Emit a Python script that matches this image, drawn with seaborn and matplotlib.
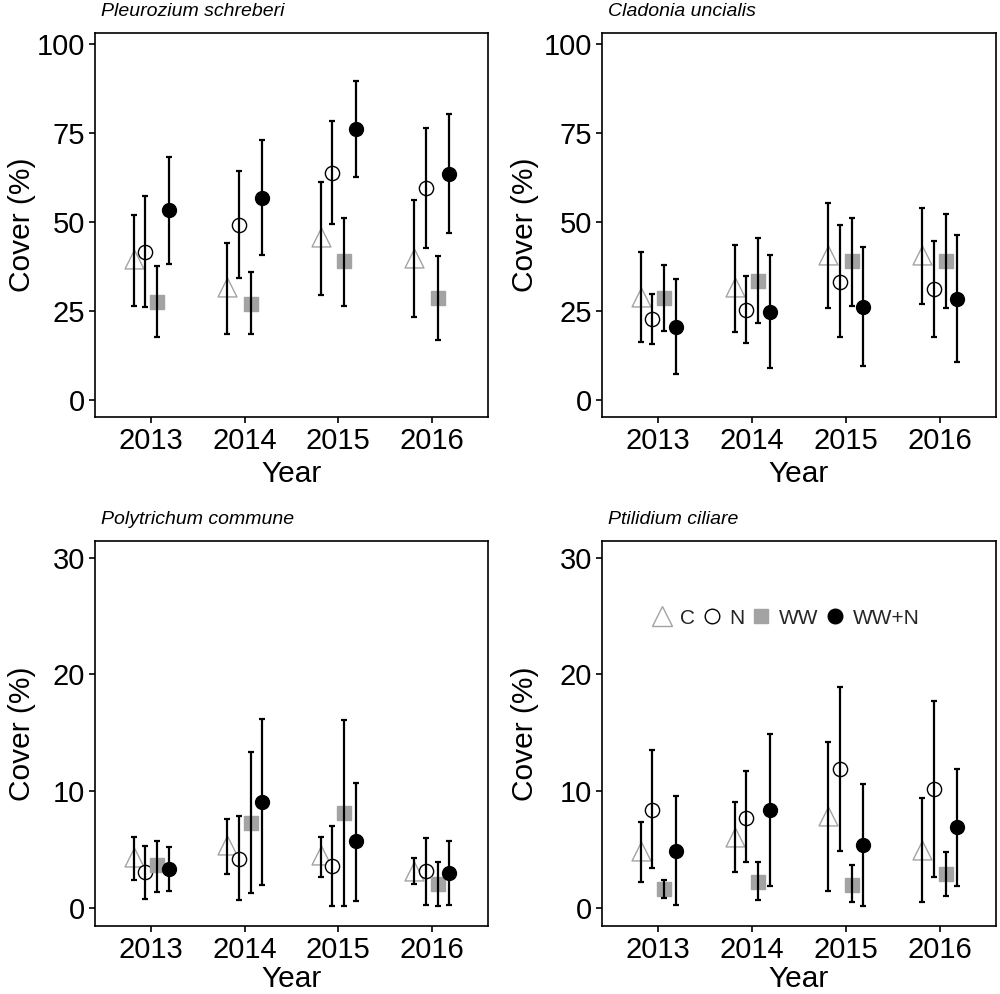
import numpy as np
import pandas as pd
import seaborn as sns
import matplotlib.pyplot as plt
from matplotlib.lines import Line2D

# 数据：每个物种 4 个处理 x 4 年 (均值, 下限, 上限)
years = ['2013', '2014', '2015', '2016']
treatments = ['C', 'N', 'WW', 'WW+N']

pleuro_mean = [[39.5, 31.7, 45.7, 39.9], [41.7, 49.2, 63.9, 59.5], [27.6, 27.0, 38.9, 28.6], [53.3, 56.8, 76.1, 63.6]]
pleuro_lo = [[26.4, 18.6, 29.4, 23.2], [26.0, 34.2, 49.5, 42.6], [17.8, 18.4, 26.4, 16.9], [38.1, 40.7, 62.6, 47.0]]
pleuro_hi = [[52.0, 44.2, 61.3, 56.2], [57.4, 64.2, 78.3, 76.3], [37.5, 35.9, 51.1, 40.3], [68.3, 72.9, 89.7, 80.3]]

clad_mean = [[29.0, 31.6, 40.7, 40.7], [22.7, 25.3, 33.2, 31.2], [28.6, 33.4, 38.9, 38.9], [20.6, 24.8, 26.2, 28.4]]
clad_lo = [[16.2, 19.0, 25.9, 26.9], [15.7, 15.9, 17.6, 17.6], [19.5, 21.5, 26.4, 25.9], [7.3, 9.1, 9.4, 10.6]]
clad_hi = [[41.7, 43.4, 55.2, 53.8], [29.8, 34.9, 49.2, 44.7], [37.9, 45.4, 51.2, 52.2], [34.0, 40.7, 43.0, 46.2]]

poly_mean = [[4.4, 5.4, 4.5, 3.2], [3.1, 4.2, 3.6, 3.2], [3.7, 7.3, 8.1, 2.1], [3.3, 9.1, 5.7, 3.0]]
poly_lo = [[2.4, 2.9, 2.7, 2.1], [0.8, 0.7, 0.2, 0.3], [1.4, 1.3, 0.2, 0.2], [1.5, 2.0, 0.6, 0.3]]
poly_hi = [[6.1, 7.6, 6.1, 4.3], [5.3, 7.9, 7.0, 6.0], [5.7, 13.4, 16.1, 3.9], [5.2, 16.2, 10.7, 5.7]]

ptil_mean = [[4.9, 6.1, 7.9, 5.0], [8.4, 7.7, 11.9, 10.2], [1.6, 2.2, 2.0, 2.9], [4.9, 8.4, 5.4, 6.9]]
ptil_lo = [[2.2, 3.1, 1.5, 0.5], [3.4, 3.9, 4.9, 2.7], [0.9, 0.7, 0.5, 1.0], [0.3, 1.9, 0.2, 1.9]]
ptil_hi = [[7.4, 9.1, 14.2, 9.4], [13.5, 11.7, 18.9, 17.7], [2.4, 3.9, 3.7, 4.8], [9.6, 14.9, 10.6, 11.9]]

panels = [
    ('Pleurozium schreberi', pleuro_mean, pleuro_lo, pleuro_hi, (-4.8, 103.1), [0, 25, 50, 75, 100]),
    ('Cladonia uncialis', clad_mean, clad_lo, clad_hi, (-4.8, 103.1), [0, 25, 50, 75, 100]),
    ('Polytrichum commune', poly_mean, poly_lo, poly_hi, (-1.54, 31.43), [0, 10, 20, 30]),
    ('Ptilidium ciliare', ptil_mean, ptil_lo, ptil_hi, (-1.54, 31.43), [0, 10, 20, 30]),
]

# 样式
offsets = [-0.1875, -0.0625, 0.0625, 0.1875]
markers = ['^', 'o', 's', 'o']
sizes = [185, 105, 100, 100]
faces = ['white', 'white', '#a3a3a3', 'black']
edges = ['#a3a3a3', 'black', '#a3a3a3', 'black']

sns.set_theme(style='white')
plt.rcParams['font.family'] = ['Liberation Sans', 'DejaVu Sans']

fig = plt.figure(figsize=(10, 9.94), dpi=100)
rects = [
    [0.095, 0.5805, 0.393, 0.3863],
    [0.602, 0.5805, 0.394, 0.3863],
    [0.095, 0.0684, 0.393, 0.3873],
    [0.602, 0.0684, 0.394, 0.3873],
]
ylab_x = [-0.15, -0.16, -0.15, -0.16]
xlab_y = [-0.113, -0.113, -0.1, -0.1]

for k, (name, mean, lo, hi, ylim, yt) in enumerate(panels):
    ax = fig.add_axes(rects[k])
    rows = []
    for t in range(4):
        for i in range(4):
            rows.append({'treat': treatments[t], 'x': i + offsets[t],
                         'mean': mean[t][i], 'lo': lo[t][i], 'hi': hi[t][i]})
    df = pd.DataFrame(rows)

    for t, tr in enumerate(treatments):
        sub = df[df['treat'] == tr]
        sns.scatterplot(data=sub, x='x', y='mean', marker=markers[t], s=sizes[t],
                        color=faces[t], edgecolor=edges[t], linewidth=1.0,
                        ax=ax, zorder=2, legend=False)
        ax.errorbar(sub['x'], sub['mean'],
                    yerr=[sub['mean'] - sub['lo'], sub['hi'] - sub['mean']],
                    fmt='none', ecolor='black', elinewidth=1.6, capsize=2.2,
                    capthick=1.6, zorder=3)

    ax.set_xlim(-0.6, 3.6)
    ax.set_ylim(*ylim)
    ax.set_xticks(range(4))
    ax.set_xticklabels(years)
    ax.set_yticks(yt)
    ax.tick_params(axis='both', labelsize=21, length=4, width=1.2, color='black',
                   labelcolor='black', pad=3, left=True, bottom=True)
    for s in ax.spines.values():
        s.set_color('black')
        s.set_linewidth(1.2)
    ax.set_xlabel('Year', fontsize=21.5, color='black')
    ax.set_ylabel('Cover (%)', fontsize=21.5, color='black')
    ax.xaxis.set_label_coords(0.5, xlab_y[k])
    ax.yaxis.set_label_coords(ylab_x[k], 0.5)
    ax.text(0.015, 1.045, name, transform=ax.transAxes, fontsize=14,
            style='italic', ha='left', va='baseline', color='black')

    if k == 3:
        handles = [
            Line2D([], [], marker='^', ls='none', ms=14, mfc='white', mec='#a3a3a3', mew=1.0),
            Line2D([], [], marker='o', ls='none', ms=10.5, mfc='white', mec='black', mew=1.0),
            Line2D([], [], marker='s', ls='none', ms=9.5, mfc='#a3a3a3', mec='#a3a3a3'),
            Line2D([], [], marker='o', ls='none', ms=10.5, mfc='black', mec='black'),
        ]
        ax.legend(handles, treatments, loc='center', bbox_to_anchor=(0.467, 0.80),
                  ncol=4, frameon=False, fontsize=15, handletextpad=0.35,
                  columnspacing=0.3, handlelength=1.0)

fig.savefig('out.png', dpi=100)
